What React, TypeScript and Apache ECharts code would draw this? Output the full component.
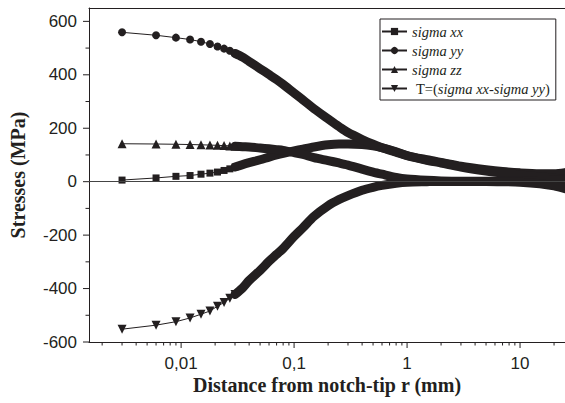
import React, { useEffect, useRef } from 'react';
import * as echarts from 'echarts';

// ---- data ----
const R = [0.003, 0.006, 0.009, 0.012, 0.015, 0.018, 0.021, 0.024, 0.027, 0.03,
  0.035, 0.04, 0.05, 0.06, 0.07, 0.08, 0.1, 0.12, 0.15, 0.2,
  0.25, 0.3, 0.4, 0.5, 0.6, 0.8, 1, 1.5, 2, 3,
  5, 7, 10, 15, 20, 25];

const SIGMA_XX = [6, 14, 20, 23, 28, 32, 36, 42, 48, 55,
  64, 71, 82, 92, 100, 106, 115, 122, 130, 138,
  141, 141, 139, 134, 127, 112, 98, 82, 72, 58,
  45, 38, 33, 30, 30, 34];

const SIGMA_YY = [559, 548, 539, 532, 524, 515, 506, 498, 490, 480,
  466, 450, 423, 401, 382, 364, 332, 306, 273, 235,
  206, 184, 158, 140, 127, 110, 97, 80, 70, 55,
  40, 32, 25, 18, 13, 9];

const SIGMA_ZZ = [142, 141, 140, 139, 138, 137, 136, 135, 134, 133,
  131, 130, 126, 123, 120, 117, 109, 102, 90, 79,
  70, 62, 47, 36, 28, 16, 10, 5, 3, 2,
  2, 2, 3, 4, 6, 8];

const T_DIFF = [-552, -537, -524, -510, -496, -484, -466, -452, -436, -422,
  -398, -370, -332, -298, -272, -250, -205, -172, -130, -90,
  -67, -52, -32, -21, -14, -6, -2, 0, 1, 1,
  1, 0, -2, -8, -16, -26];

const SERIES_NAMES = ['sigma xx', 'sigma yy', 'sigma zz', 'T=(sigma xx-sigma yy)'];

const X_MIN = 0.00153;
const X_MAX = 25;
const Y_MIN = -600;
const Y_MAX = 650;
const Y_STEP = 200;

const X_MAJOR_TICKS = [0.01, 0.1, 1, 10];
const X_MINOR_TICKS = [0.002, 0.003, 0.004, 0.005, 0.006, 0.007, 0.008, 0.009,
  0.02, 0.03, 0.04, 0.05, 0.06, 0.07, 0.08, 0.09,
  0.2, 0.3, 0.4, 0.5, 0.6, 0.7, 0.8, 0.9,
  2, 3, 4, 5, 6, 7, 8, 9, 20];
const Y_MAJOR_TICKS = [-600, -400, -200, 0, 200, 400, 600];
const Y_MINOR_TICKS = [-500, -300, -100, 100, 300, 500];

const SPARSE_COUNT = 10; // points drawn as individual markers

const INK = '#231f20';
const SERIF = 'Liberation Serif';
const SANS = 'Liberation Sans';

const STYLES = [
  { symbol: 'rect', size: 7, rotate: 0 },
  { symbol: 'circle', size: 8, rotate: 0 },
  { symbol: 'triangle', size: 9, rotate: 0 },
  { symbol: 'triangle', size: 9, rotate: 180 },
];

export default function App() {
  const ref = useRef<HTMLDivElement>(null);

  useEffect(() => {
    if (!ref.current) return;
    const chart = echarts.init(ref.current, undefined, { renderer: 'svg' });
    const valueSets = [SIGMA_XX, SIGMA_YY, SIGMA_ZZ, T_DIFF];

    const series: any[] = [];
    valueSets.forEach((vals, k) => {
      const pts = R.map((r, i) => [r, vals[i]]);
      series.push({
        type: 'line',
        name: SERIES_NAMES[k] + ' (dense)',
        data: pts.slice(SPARSE_COUNT - 1),
        showSymbol: false,
        symbol: 'none',
        smooth: 0.3,
        silent: true,
        lineStyle: { width: 9, color: INK, cap: 'round', join: 'round' },
        itemStyle: { color: INK },
        z: 2,
        ...(k === 0
          ? {
              markLine: {
                silent: true,
                symbol: ['none', 'none'],
                label: { show: false },
                lineStyle: { color: '#444', width: 1, type: 'solid' },
                data: [{ yAxis: 0 }],
              },
            }
          : {}),
      });
    });
    valueSets.forEach((vals, k) => {
      const pts = R.map((r, i) => [r, vals[i]]);
      series.push({
        type: 'line',
        name: SERIES_NAMES[k],
        data: pts.slice(0, SPARSE_COUNT),
        symbol: STYLES[k].symbol,
        symbolSize: STYLES[k].size,
        symbolRotate: STYLES[k].rotate,
        showSymbol: true,
        showAllSymbol: true,
        lineStyle: { width: 1, color: INK },
        itemStyle: { color: INK },
        z: 3,
      });
    });

    // axis ticks drawn through the axes' scales
    series.push({
      type: 'custom',
      silent: true,
      clip: false,
      z: 6,
      data: [
        ...X_MAJOR_TICKS.map((v) => [v, Y_MIN, 6]),
        ...X_MINOR_TICKS.map((v) => [v, Y_MIN, 3.5]),
      ],
      renderItem: (_p: any, api: any) => {
        const p = api.coord([api.value(0), api.value(1)]);
        const len = api.value(2);
        return {
          type: 'line',
          shape: { x1: p[0], y1: p[1], x2: p[0], y2: p[1] + len },
          style: { stroke: INK, lineWidth: 1 },
        };
      },
    });
    series.push({
      type: 'custom',
      silent: true,
      clip: false,
      z: 6,
      data: [
        ...Y_MAJOR_TICKS.map((v) => [X_MIN, v, 6]),
        ...Y_MINOR_TICKS.map((v) => [X_MIN, v, 3.5]),
      ],
      renderItem: (_p: any, api: any) => {
        const p = api.coord([api.value(0), api.value(1)]);
        const len = api.value(2);
        return {
          type: 'line',
          shape: { x1: p[0] - len, y1: p[1], x2: p[0], y2: p[1] },
          style: { stroke: INK, lineWidth: 1 },
        };
      },
    });

    chart.setOption({
      animation: false,
      textStyle: { fontFamily: SANS, color: INK },
      grid: { left: 89, top: 8, right: 0, bottom: 61, containLabel: false, outerBoundsMode: 'none' },
      legend: {
        data: SERIES_NAMES,
        orient: 'vertical',
        left: 380,
        top: 19,
        padding: [5, 6, 4, 1],
        borderColor: INK,
        borderWidth: 1,
        itemWidth: 25,
        itemHeight: 9,
        itemGap: 4,
        selectedMode: false,
        formatter: (name: string) =>
          name.startsWith('T=') ? '{a|T=(}{i|sigma xx-sigma yy}{n|)}' : '{i|' + name + '}',
        textStyle: {
          fontFamily: SERIF,
          fontSize: 14.5,
          color: INK,
          rich: {
            i: { fontFamily: SERIF, fontStyle: 'italic', fontSize: 14.5, color: INK },
            n: { fontFamily: SERIF, fontSize: 14.5, color: INK },
            a: { fontFamily: SERIF, fontSize: 14.5, color: INK, padding: [0, 0, 0, 4] },
          },
        },
      },
      xAxis: [
        {
          type: 'log',
          logBase: 10,
          min: X_MIN,
          max: X_MAX,
          axisLine: { show: true, onZero: false, lineStyle: { color: INK, width: 1 } },
          axisTick: { show: false },
          minorTick: { show: false },
          splitLine: { show: false },
          axisLabel: {
            showMinLabel: false,
            showMaxLabel: false,
            fontFamily: SANS,
            fontSize: 17,
            color: INK,
            margin: 13,
            formatter: (v: number) => String(v).replace('.', ','),
          },
          name: 'Distance from notch-tip r (mm)',
          nameLocation: 'middle',
          nameGap: 33,
          nameMoveOverlap: false,
          nameTextStyle: { fontFamily: SERIF, fontWeight: 'bold', fontSize: 20, color: INK },
        },
        {
          type: 'value',
          position: 'top',
          min: 0,
          max: 1,
          axisLine: { show: true, onZero: false, lineStyle: { color: INK, width: 1 } },
          axisTick: { show: false },
          axisLabel: { show: false },
          splitLine: { show: false },
        },
      ],
      yAxis: {
        type: 'value',
        min: Y_MIN,
        max: Y_MAX,
        interval: Y_STEP,
        axisLine: { show: true, onZero: false, lineStyle: { color: INK, width: 1 } },
        axisTick: { show: false },
        splitLine: { show: false },
        axisLabel: {
          showMaxLabel: false,
          fontFamily: SANS,
          fontSize: 17,
          color: INK,
          margin: 12,
        },
        name: 'Stresses (MPa)',
        nameLocation: 'middle',
        nameGap: 61,
        nameMoveOverlap: false,
        nameTextStyle: { fontFamily: SERIF, fontWeight: 'bold', fontSize: 20, color: INK },
      },
      series,
    });

    return () => chart.dispose();
  }, []);

  return (
    <div
      ref={ref}
      style={{ position: 'fixed', left: 0, top: 0, width: 565, height: 403, background: '#fff' }}
    />
  );
}
